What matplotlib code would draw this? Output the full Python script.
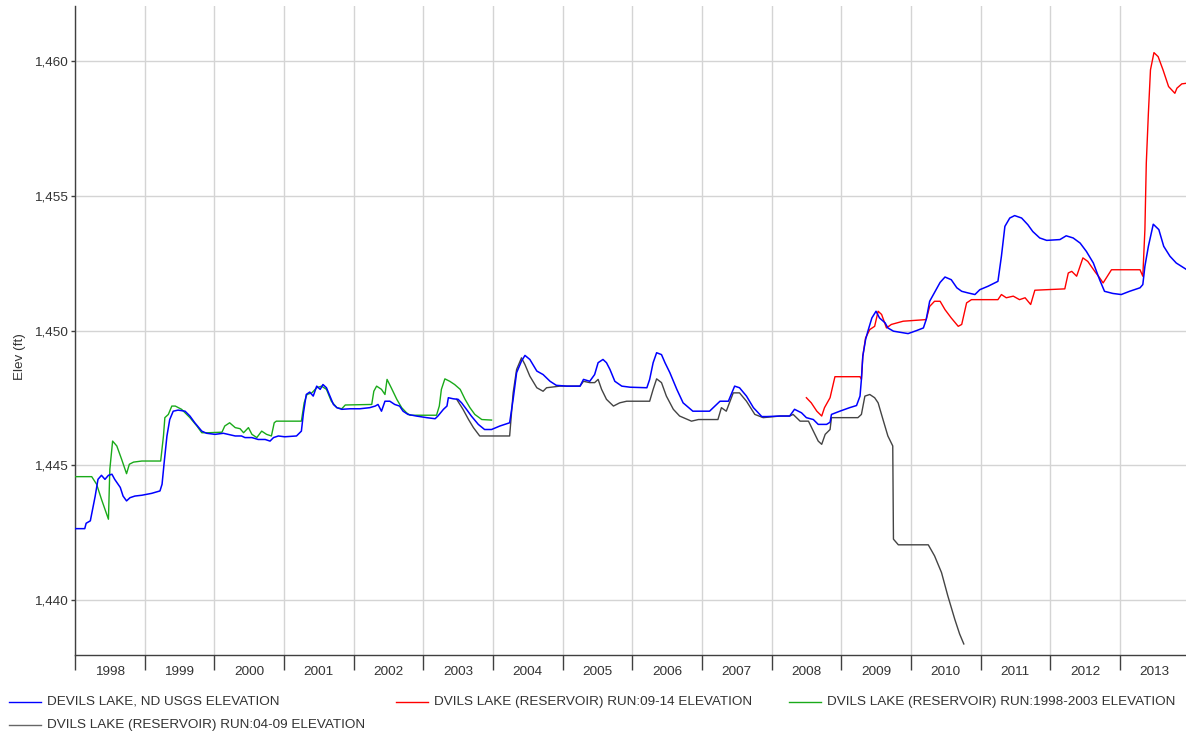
import numpy as np
import matplotlib
matplotlib.use("Agg")
import matplotlib.pyplot as plt
from matplotlib.lines import Line2D
from matplotlib.ticker import FuncFormatter, MultipleLocator

plt.rcParams["font.family"] = ["Liberation Sans", "DejaVu Sans"]

# ----- data (decimal year, elevation ft) -----
usgs_year = [
    1998.00, 1998.14, 1998.16, 1998.22, 1998.29, 1998.33, 1998.38, 1998.43, 1998.48, 1998.53,
    1998.57, 1998.65, 1998.69, 1998.74, 1998.79, 1998.86, 1998.96, 1999.10, 1999.22, 1999.25,
    1999.28, 1999.32, 1999.36, 1999.41, 1999.48, 1999.58, 1999.65, 1999.72, 1999.82, 1999.89,
    2000.01, 2000.13, 2000.20, 2000.30, 2000.39, 2000.44, 2000.54, 2000.63, 2000.73, 2000.80,
    2000.85, 2000.92, 2001.01, 2001.18, 2001.25, 2001.28, 2001.32, 2001.37, 2001.42, 2001.47,
    2001.52, 2001.56, 2001.61, 2001.66, 2001.71, 2001.76, 2001.83, 2001.95, 2002.09, 2002.23,
    2002.31, 2002.35, 2002.40, 2002.45, 2002.52, 2002.59, 2002.66, 2002.71, 2002.78, 2002.90,
    2003.05, 2003.17, 2003.21, 2003.29, 2003.34, 2003.36, 2003.43, 2003.50, 2003.55, 2003.62,
    2003.69, 2003.79, 2003.88, 2003.98, 2004.10, 2004.24, 2004.29, 2004.34, 2004.41, 2004.46,
    2004.53, 2004.63, 2004.72, 2004.82, 2004.91, 2005.06, 2005.25, 2005.30, 2005.39, 2005.46,
    2005.51, 2005.58, 2005.63, 2005.68, 2005.75, 2005.85, 2005.97, 2006.21, 2006.25, 2006.30,
    2006.35, 2006.42, 2006.47, 2006.54, 2006.64, 2006.73, 2006.87, 2007.11, 2007.26, 2007.38,
    2007.47, 2007.54, 2007.64, 2007.74, 2007.86, 2007.93, 2008.12, 2008.26, 2008.33, 2008.43,
    2008.50, 2008.60, 2008.67, 2008.79, 2008.84, 2008.86, 2008.98, 2009.12, 2009.22, 2009.27,
    2009.29, 2009.31, 2009.35, 2009.39, 2009.44, 2009.50, 2009.55, 2009.63, 2009.67, 2009.75,
    2009.84, 2009.96, 2010.08, 2010.18, 2010.22, 2010.27, 2010.42, 2010.49, 2010.58, 2010.66,
    2010.73, 2010.82, 2010.92, 2010.99, 2011.11, 2011.25, 2011.30, 2011.35, 2011.42, 2011.49,
    2011.59, 2011.68, 2011.75, 2011.85, 2011.95, 2012.14, 2012.23, 2012.33, 2012.43, 2012.52,
    2012.62, 2012.71, 2012.78, 2012.90, 2013.02, 2013.14, 2013.29, 2013.33, 2013.36, 2013.41,
    2013.48, 2013.56, 2013.63, 2013.72, 2013.81, 2013.95,
]
usgs_elev = [
    1442.65, 1442.65, 1442.85, 1442.94, 1443.86, 1444.48, 1444.63, 1444.48, 1444.63, 1444.67,
    1444.48, 1444.18, 1443.86, 1443.68, 1443.80, 1443.86, 1443.89, 1443.96, 1444.05, 1444.30,
    1445.10, 1446.09, 1446.70, 1447.01, 1447.05, 1447.01, 1446.83, 1446.58, 1446.27, 1446.19,
    1446.15, 1446.19, 1446.15, 1446.09, 1446.09, 1446.03, 1446.03, 1445.96, 1445.96, 1445.90,
    1446.03, 1446.09, 1446.06, 1446.09, 1446.27, 1446.95, 1447.63, 1447.72, 1447.57, 1447.94,
    1447.82, 1448.00, 1447.88, 1447.57, 1447.26, 1447.14, 1447.08, 1447.10, 1447.10, 1447.14,
    1447.20, 1447.26, 1447.01, 1447.38, 1447.38, 1447.26, 1447.20, 1447.01, 1446.89, 1446.83,
    1446.77, 1446.73, 1446.83, 1447.08, 1447.20, 1447.51, 1447.47, 1447.45, 1447.32, 1447.08,
    1446.83, 1446.52, 1446.33, 1446.33, 1446.46, 1446.58, 1447.45, 1448.44, 1448.87, 1449.08,
    1448.93, 1448.50, 1448.37, 1448.12, 1447.97, 1447.94, 1447.94, 1448.19, 1448.12, 1448.37,
    1448.81, 1448.93, 1448.81, 1448.56, 1448.12, 1447.94, 1447.90, 1447.88, 1448.19, 1448.81,
    1449.18, 1449.11, 1448.81, 1448.44, 1447.82, 1447.32, 1447.01, 1447.01, 1447.38, 1447.38,
    1447.94, 1447.88, 1447.57, 1447.14, 1446.81, 1446.81, 1446.83, 1446.83, 1447.08, 1446.95,
    1446.77, 1446.70, 1446.52, 1446.52, 1446.60, 1446.89, 1447.01, 1447.14, 1447.22, 1447.57,
    1448.19, 1449.05, 1449.67, 1450.04, 1450.47, 1450.72, 1450.47, 1450.29, 1450.10, 1449.98,
    1449.94, 1449.89, 1450.00, 1450.10, 1450.41, 1451.09, 1451.79, 1451.99, 1451.89, 1451.59,
    1451.46, 1451.40, 1451.34, 1451.52, 1451.65, 1451.83, 1452.76, 1453.87, 1454.18, 1454.27,
    1454.18, 1453.93, 1453.68, 1453.44, 1453.35, 1453.38, 1453.52, 1453.44, 1453.25, 1452.94,
    1452.51, 1451.89, 1451.46, 1451.38, 1451.34, 1451.46, 1451.59, 1451.71, 1452.39, 1453.13,
    1453.95, 1453.75, 1453.13, 1452.76, 1452.51, 1452.28,
]

run0914_year = [
    2008.50, 2008.57, 2008.65, 2008.72, 2008.76, 2008.84, 2008.91, 2009.27, 2009.29, 2009.31,
    2009.35, 2009.41, 2009.48, 2009.53, 2009.58, 2009.65, 2009.72, 2009.89, 2010.22, 2010.27,
    2010.34, 2010.42, 2010.49, 2010.58, 2010.68, 2010.73, 2010.80, 2010.87, 2011.25, 2011.30,
    2011.37, 2011.47, 2011.56, 2011.64, 2011.72, 2011.78, 2011.95, 2012.21, 2012.26, 2012.31,
    2012.38, 2012.47, 2012.54, 2012.64, 2012.71, 2012.76, 2012.88, 2013.29, 2013.33, 2013.36,
    2013.38, 2013.41, 2013.44, 2013.49, 2013.55, 2013.62, 2013.70, 2013.79, 2013.82, 2013.89,
    2013.95,
]
run0914_elev = [
    1447.51, 1447.32, 1447.01, 1446.83, 1447.14, 1447.51, 1448.29, 1448.29, 1448.19, 1449.05,
    1449.73, 1450.04, 1450.16, 1450.72, 1450.60, 1450.10, 1450.23, 1450.35, 1450.41, 1450.90,
    1451.09, 1451.09, 1450.78, 1450.47, 1450.16, 1450.23, 1451.03, 1451.15, 1451.15, 1451.34,
    1451.22, 1451.28, 1451.15, 1451.22, 1450.97, 1451.50, 1451.52, 1451.55, 1452.14, 1452.20,
    1452.02, 1452.70, 1452.57, 1452.20, 1451.96, 1451.77, 1452.26, 1452.26, 1452.02, 1453.75,
    1456.22, 1458.07, 1459.68, 1460.32, 1460.17, 1459.68, 1459.06, 1458.81, 1459.00, 1459.16,
    1459.18,
]

run9803_year = [
    1998.00, 1998.24, 1998.31, 1998.38, 1998.48, 1998.50, 1998.54, 1998.60, 1998.67, 1998.74,
    1998.78, 1998.84, 1998.96, 1999.23, 1999.27, 1999.29, 1999.34, 1999.39, 1999.44, 1999.53,
    1999.65, 1999.75, 1999.82, 1999.91, 2000.11, 2000.15, 2000.22, 2000.30, 2000.37, 2000.42,
    2000.49, 2000.54, 2000.61, 2000.68, 2000.75, 2000.82, 2000.86, 2000.89, 2001.25, 2001.29,
    2001.33, 2001.40, 2001.47, 2001.54, 2001.61, 2001.68, 2001.76, 2001.83, 2001.88, 2002.26,
    2002.29, 2002.33, 2002.40, 2002.45, 2002.48, 2002.54, 2002.62, 2002.69, 2002.76, 2002.81,
    2003.19, 2003.23, 2003.26, 2003.31, 2003.38, 2003.45, 2003.53, 2003.60, 2003.67, 2003.74,
    2003.84, 2003.98,
]
run9803_elev = [
    1444.58, 1444.58, 1444.30, 1443.74, 1443.00, 1444.85, 1445.90, 1445.72, 1445.22, 1444.69,
    1445.04, 1445.12, 1445.16, 1445.16, 1446.09, 1446.77, 1446.89, 1447.20, 1447.20, 1447.08,
    1446.77, 1446.46, 1446.21, 1446.21, 1446.23, 1446.46, 1446.58, 1446.40, 1446.36, 1446.21,
    1446.40, 1446.15, 1446.03, 1446.27, 1446.15, 1446.09, 1446.58, 1446.64, 1446.64, 1447.32,
    1447.63, 1447.69, 1447.88, 1447.94, 1447.82, 1447.38, 1447.14, 1447.10, 1447.24, 1447.26,
    1447.75, 1447.94, 1447.82, 1447.63, 1448.19, 1447.88, 1447.45, 1447.14, 1446.95, 1446.86,
    1446.86, 1447.20, 1447.82, 1448.21, 1448.12, 1448.00, 1447.82, 1447.45, 1447.14, 1446.89,
    1446.70, 1446.68,
]

run0409_year = [
    2003.48, 2003.57, 2003.65, 2003.72, 2003.81, 2004.24, 2004.29, 2004.34, 2004.41, 2004.46,
    2004.53, 2004.63, 2004.72, 2004.77, 2004.96, 2005.25, 2005.30, 2005.39, 2005.46, 2005.51,
    2005.56, 2005.63, 2005.73, 2005.82, 2005.92, 2006.25, 2006.30, 2006.35, 2006.42, 2006.49,
    2006.59, 2006.68, 2006.85, 2006.95, 2007.23, 2007.28, 2007.35, 2007.45, 2007.54, 2007.64,
    2007.76, 2007.88, 2008.12, 2008.26, 2008.31, 2008.41, 2008.53, 2008.60, 2008.67, 2008.72,
    2008.77, 2008.84, 2008.86, 2009.24, 2009.29, 2009.34, 2009.41, 2009.48, 2009.53, 2009.60,
    2009.67, 2009.74, 2009.75, 2009.82, 2010.25, 2010.34, 2010.44, 2010.53, 2010.63, 2010.70,
    2010.76,
]
run0409_elev = [
    1447.45, 1447.08, 1446.70, 1446.40, 1446.09, 1446.09, 1447.69, 1448.56, 1448.99, 1448.74,
    1448.31, 1447.88, 1447.75, 1447.88, 1447.94, 1447.94, 1448.12, 1448.07, 1448.07, 1448.19,
    1447.82, 1447.45, 1447.20, 1447.32, 1447.38, 1447.38, 1447.82, 1448.21, 1448.07, 1447.57,
    1447.08, 1446.83, 1446.64, 1446.70, 1446.70, 1447.14, 1447.01, 1447.69, 1447.69, 1447.38,
    1446.89, 1446.77, 1446.83, 1446.83, 1446.89, 1446.64, 1446.64, 1446.27, 1445.90, 1445.78,
    1446.15, 1446.33, 1446.77, 1446.77, 1446.89, 1447.57, 1447.63, 1447.51, 1447.32, 1446.70,
    1446.09, 1445.72, 1442.26, 1442.05, 1442.05, 1441.64, 1441.02, 1440.16, 1439.29, 1438.74,
    1438.37,
]

years = list(range(1998, 2014))
series_labels = [
    "DEVILS LAKE, ND USGS ELEVATION",
    "DVILS LAKE (RESERVOIR) RUN:09-14 ELEVATION",
    "DVILS LAKE (RESERVOIR) RUN:1998-2003 ELEVATION",
    "DVILS LAKE (RESERVOIR) RUN:04-09 ELEVATION",
]

BLUE, RED, GREEN, GRAY = "#0000ff", "#ff0000", "#1aaa1a", "#444444"
TXT = "#333333"
FS = 9.7


def main():
    fig = plt.figure(figsize=(11.86, 7.32), dpi=100)
    ax = fig.add_axes([75 / 1186, 77 / 732, 1111 / 1186, 649 / 732])

    ax.plot(run0409_year, run0409_elev, color=GRAY, lw=1.0, zorder=3)
    ax.plot(run9803_year, run9803_elev, color=GREEN, lw=1.0, zorder=3)
    ax.plot(run0914_year, run0914_elev, color=RED, lw=1.0, zorder=3)
    ax.plot(usgs_year, usgs_elev, color=BLUE, lw=1.1, zorder=4)

    ax.set_xlim(1998.0, 2013.95)
    ax.set_ylim(1437.96, 1462.05)

    # year boundaries = major ticks/grid, labels centred in each year band
    ax.set_xticks(years)
    ax.set_xticklabels([])
    ax.set_xticks([y + 0.5 for y in years], minor=True)
    ax.set_xticklabels([str(y) for y in years], minor=True, fontsize=FS, color=TXT)
    ax.tick_params(axis="x", which="major", length=11, width=1, color="#404040", direction="out")
    ax.tick_params(axis="x", which="minor", length=0, pad=8)

    ax.yaxis.set_major_locator(MultipleLocator(5))
    ax.yaxis.set_major_formatter(FuncFormatter(lambda v, _: f"{v:,.0f}"))
    ax.tick_params(axis="y", length=3, width=1, color="#404040", labelsize=FS, labelcolor=TXT, pad=2)

    ax.grid(True, which="major", color="#d4d4d4", lw=1.0, zorder=0)
    ax.set_axisbelow(True)
    for s in ("top", "right"):
        ax.spines[s].set_visible(False)
    for s in ("left", "bottom"):
        ax.spines[s].set_color("#404040")
        ax.spines[s].set_linewidth(1.0)

    ax.set_ylabel("Elev (ft)", fontsize=FS, color=TXT)
    ax.yaxis.set_label_coords(-0.044, 0.46)

    # legend laid out in a flow like the original
    entries = [
        (series_labels[0], BLUE, 9, 702),
        (series_labels[1], RED, 396, 702),
        (series_labels[2], GREEN, 789, 702),
        (series_labels[3], "#666666", 9, 725),
    ]
    W, H = 1186, 732
    for text, col, x0, y0 in entries:
        fig.add_artist(Line2D([x0 / W, (x0 + 32) / W], [1 - y0 / H, 1 - y0 / H],
                              transform=fig.transFigure, color=col, lw=1.0))
        fig.text((x0 + 38) / W, 1 - y0 / H, text, fontsize=FS, color=TXT, va="center", ha="left")

    fig.savefig("out.png", dpi=100)


if __name__ == "__main__":
    main()
